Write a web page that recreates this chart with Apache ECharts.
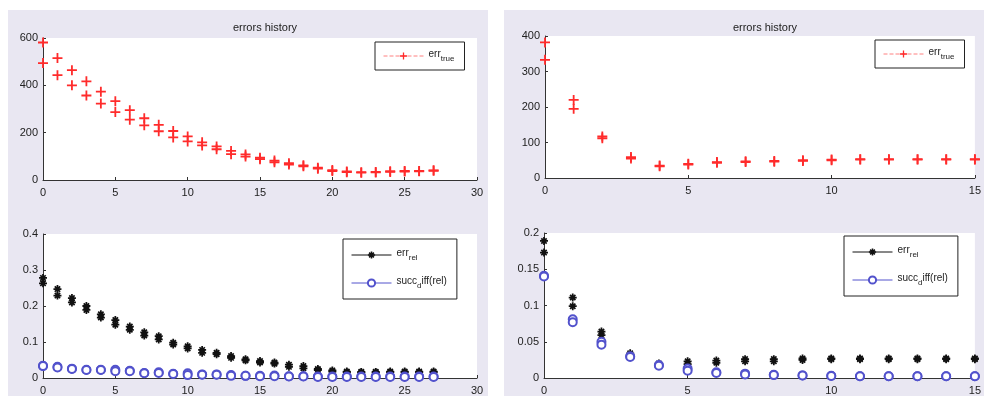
<!DOCTYPE html>
<html>
<head>
<meta charset="utf-8">
<script src="https://cdn.jsdelivr.net/npm/echarts@6/dist/echarts.min.js"></script>
<style>
  html, body { margin: 0; padding: 0; background: #fff; }
  #main { width: 984px; height: 396px; }
</style>
</head>
<body>
<div id="main"></div>
<script>
// top left: err_true, 28 iterations, two values each
const tlIter = [0,1,2,3,4,5,6,7,8,9,10,11,12,13,14,15,16,17,18,19,20,21,22,23,24,25,26,27];
const tlHi = [581,515,464,417,373,333,295,261,233,207,184,159,142,123,108,94,82,71,62,52,42,36,33,34,37,38,38,41];
const tlLo = [494,443,400,357,323,287,255,231,206,180,163,146,130,109,99,88,75,65,58,48,38,33,31,32,34,36,37,39];

// top right: err_true, 16 iterations
const trIter = [0,1,2,3,4,5,6,7,8,9,10,11,12,13,14,15];
const trHi = [382,220,117,59,35,40,45,47,48,50,52,53,53,53,53,53];
const trLo = [333,195,112,55,33,38,43,45,46,48,50,52,52,52,52,52];

// bottom left: err_rel and succ_diff(rel)
const blRelHi = [0.278,0.247,0.222,0.200,0.177,0.161,0.143,0.127,0.116,0.098,0.088,0.078,0.070,0.061,0.052,0.047,0.043,0.037,0.033,0.025,0.021,0.018,0.017,0.017,0.018,0.018,0.018,0.018];
const blRelLo = [0.263,0.229,0.210,0.189,0.168,0.148,0.134,0.118,0.107,0.093,0.082,0.070,0.066,0.056,0.049,0.043,0.040,0.031,0.027,0.022,0.018,0.016,0.015,0.015,0.016,0.016,0.016,0.016];
const blDiffHi = [0.034,0.031,0.026,0.023,0.023,0.023,0.020,0.014,0.016,0.012,0.013,0.010,0.010,0.008,0.006,0.006,0.007,0.005,0.005,0.004,0.004,0.004,0.004,0.004,0.004,0.004,0.004,0.004];
const blDiffLo = [0.033,0.029,0.025,0.022,0.022,0.019,0.019,0.013,0.014,0.011,0.008,0.009,0.009,0.006,0.006,0.005,0.005,0.004,0.004,0.003,0.003,0.003,0.003,0.003,0.003,0.003,0.003,0.003];

// bottom right: err_rel and succ_diff(rel)
const brRelHi = [0.189,0.111,0.064,0.034,0.020,0.023,0.024,0.026,0.026,0.027,0.027,0.027,0.027,0.027,0.027,0.027];
const brRelLo = [0.173,0.099,0.059,0.031,0.017,0.019,0.021,0.023,0.023,0.025,0.026,0.026,0.026,0.026,0.026,0.026];
const brDiffHi = [0.141,0.081,0.050,0.030,0.018,0.013,0.008,0.006,0.0045,0.0036,0.003,0.0025,0.0025,0.0025,0.0025,0.0025];
const brDiffLo = [0.140,0.077,0.046,0.029,0.017,0.010,0.007,0.005,0.004,0.0034,0.0028,0.0024,0.0024,0.0024,0.0024,0.0024];

const pairs = (iter, hi, lo) => {
  let out = [];
  for (let k = 0; k < iter.length; k++) {
    out.push([iter[k], hi[k]]);
    out.push([iter[k], lo[k]]);
  }
  return out;
};

const PLUS = 'path://M4.1,0h1.8v4.1h4.1v1.8h-4.1v4.1h-1.8v-4.1h-4.1v-1.8h4.1z';
const STAR = 'path://M3.9,0h2.2v10h-2.2z M0,3.9h10v2.2h-10z M0.9,2.4L2.4,0.9L9.1,7.6L7.6,9.1z M7.6,0.9L9.1,2.4L2.4,9.1L0.9,7.6z';

const RED = '#ff2b2b';
const BLACK = '#111';
const BLUE = '#5252cc';
const TXT = '#222';
const FONT = 'Liberation Sans, Arial, sans-serif';

const chart = echarts.init(document.getElementById('main'));

const xAx = (grid, max) => ({
  type: 'value', gridIndex: grid, min: 0, max: max, interval: 5,
  axisLine: { lineStyle: { color: '#333', width: 1 } },
  axisTick: { inside: true, length: 3, lineStyle: { color: '#333' } },
  axisLabel: { color: TXT, fontSize: 11, fontFamily: FONT, margin: 7 },
  splitLine: { show: false }
});
const yAx = (grid, max, step) => ({
  type: 'value', gridIndex: grid, min: 0, max: max, interval: step,
  axisLine: { show: true, lineStyle: { color: '#333', width: 1 } },
  axisTick: { show: true, inside: true, length: 3, lineStyle: { color: '#333' } },
  axisLabel: { color: TXT, fontSize: 11, fontFamily: FONT, margin: 5 },
  splitLine: { show: false }
});

const dots = (name, grid, data, symbol, size, color, extra) => Object.assign({
  type: 'line', name: name, xAxisIndex: grid, yAxisIndex: grid,
  data: data, symbol: symbol, symbolSize: size, showAllSymbol: true,
  lineStyle: { opacity: 0 }, itemStyle: { color: color },
  animation: false, clip: true, z: 3
}, extra || {});

const legendText = {
  err_true: '{m|err}{s|true}',
  err_rel: '{m|err}{s|rel}',
  succ_diff: '{m|succ}{s|d}{m|iff(rel)}'
};
const rich = {
  m: { fontSize: 10, fontFamily: FONT, color: TXT, padding: [0, 0, 4, 0] },
  s: { fontSize: 8, fontFamily: FONT, color: TXT, padding: [6, 0, 0, 0] }
};
const legendBox = (names, left, top, lineStyle, gap, pad) => ({
  data: names, left: left, top: top, orient: 'vertical',
  backgroundColor: '#fff', borderColor: '#222', borderWidth: 1, borderRadius: 0,
  padding: pad, itemGap: gap, itemWidth: 40, itemHeight: 9,
  lineStyle: lineStyle, selectedMode: false,
  formatter: n => legendText[n],
  textStyle: { rich: rich }
});

chart.setOption({
  backgroundColor: '#fff',
  animation: false,
  graphic: [
    { type: 'rect', shape: { x: 8, y: 10, width: 480, height: 386 }, style: { fill: '#e9e7f2' }, z: -10 },
    { type: 'rect', shape: { x: 504, y: 10, width: 480, height: 386 }, style: { fill: '#e9e7f2' }, z: -10 }
  ],
  title: [
    { text: 'errors history', left: 260, top: 17, textAlign: 'center', textStyle: { fontSize: 11, fontWeight: 'normal', color: TXT, fontFamily: FONT } },
    { text: 'errors history', left: 760, top: 17, textAlign: 'center', textStyle: { fontSize: 11, fontWeight: 'normal', color: TXT, fontFamily: FONT } }
  ],
  grid: [
    { left: 43, right: 507, top: 38, bottom: 216, show: true, backgroundColor: '#fff', borderWidth: 0 },
    { left: 545, right: 8, top: 36, bottom: 218, show: true, backgroundColor: '#fff', borderWidth: 0 },
    { left: 43, right: 507, top: 234, bottom: 14, show: true, backgroundColor: '#fff', borderWidth: 0 },
    { left: 544, right: 8, top: 233, bottom: 16, show: true, backgroundColor: '#fff', borderWidth: 0 }
  ],
  xAxis: [xAx(0, 30), xAx(1, 15), xAx(2, 30), xAx(3, 15)],
  yAxis: [yAx(0, 600, 200), yAx(1, 400, 100), yAx(2, 0.4, 0.1), yAx(3, 0.2, 0.05)],
  legend: [
    legendBox(['err_true'], 375, 42, { opacity: 1, type: 'dashed', color: '#ff8080', width: 1 }, 10, [7, 10, 7, 8]),
    legendBox(['err_true'], 875, 40, { opacity: 1, type: 'dashed', color: '#ff8080', width: 1 }, 10, [7, 10, 7, 8]),
    legendBox(['err_rel', 'succ_diff'], 343, 239, { opacity: 1, type: 'solid', width: 1 }, 14, [9, 10, 9, 8]),
    legendBox(['err_rel', 'succ_diff'], 844, 236, { opacity: 1, type: 'solid', width: 1 }, 14, [9, 10, 9, 8])
  ],
  series: [
    dots('err_true', 0, pairs(tlIter, tlHi, tlLo), PLUS, 10, RED),
    dots('err_true', 1, pairs(trIter, trHi, trLo), PLUS, 10, RED),
    dots('err_rel', 2, pairs(tlIter, blRelHi, blRelLo), STAR, 8, BLACK),
    dots('succ_diff', 2, pairs(tlIter, blDiffHi, blDiffLo), 'emptyCircle', 8, BLUE, { itemStyle: { color: BLUE, borderWidth: 1 } }),
    dots('err_rel', 3, pairs(trIter, brRelHi, brRelLo), STAR, 8, BLACK),
    dots('succ_diff', 3, pairs(trIter, brDiffHi, brDiffLo), 'emptyCircle', 8, BLUE, { itemStyle: { color: BLUE, borderWidth: 1 } })
  ]
});
</script>
</body>
</html>
